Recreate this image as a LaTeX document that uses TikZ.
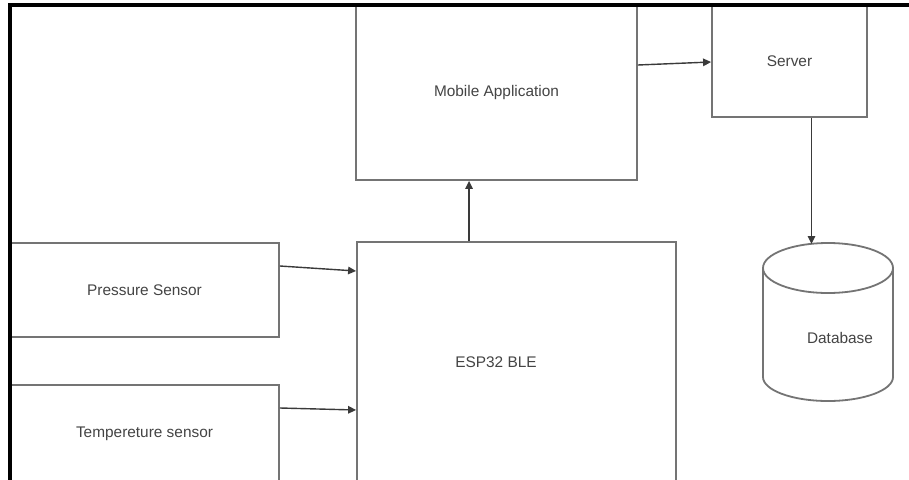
\documentclass[tikz,border=0pt]{standalone}
\usepackage{fontspec}
\setmainfont{Liberation Sans}
\usetikzlibrary{arrows.meta}
\definecolor{boxgray}{HTML}{747474}
\definecolor{txtgray}{HTML}{444444}
\definecolor{arrgray}{HTML}{3A3A3A}
\tikzset{
  blk/.style={draw=boxgray, line width=1.8pt, inner sep=0pt, font=\fontsize{15.4}{18}\selectfont, text=txtgray},
  lbl/.style={inner sep=0pt, font=\fontsize{15.4}{18}\selectfont, text=txtgray},
  conn/.style={draw=arrgray, line width=1.4pt, -{Triangle[length=8pt,width=7.5pt]}},
  frameline/.style={draw=black, line width=3.2pt},
  cyl/.style={draw=boxgray, line width=1.8pt}
}
\begin{document}
\begin{tikzpicture}[x=1pt,y=-1pt]
\clip (0,0) rectangle (909,479);
\fill[white] (0,0) rectangle (909,479);
% boxes
\node[blk, minimum width=281pt, minimum height=175pt] (mob) at (496.5,92.5) {Mobile Application};
\node[blk, minimum width=155pt, minimum height=112pt] (srv) at (789.5,61) {Server};
\node[blk, minimum width=269pt, minimum height=94pt] (press) at (144.5,290) {Pressure Sensor};
\node[blk, minimum width=269pt, minimum height=98pt] (temp) at (144.5,434) {Tempereture sensor};
\node[blk, minimum width=319pt, minimum height=258pt] (esp) at (516.5,371) {};
\node[lbl] (esplbl) at (496,362) {ESP32 BLE};
% database cylinder
\draw[cyl] (763,268) -- (763,377)
  .. controls (763,390.2) and (792.1,401) .. (828,401)
  .. controls (863.9,401) and (893,390.2) .. (893,377) -- (893,268);
\draw[cyl] (828,268) ellipse[x radius=65, y radius=25];
\node[lbl] (db) at (840,338) {Database};
\coordinate (dbtop) at (811.5,244);
% connectors
\draw[conn] ([yshift=27.5pt]mob.east) -- ([yshift=-1pt]srv.west);
\draw[conn] ([xshift=22pt]srv.south) -- (dbtop);
\draw[conn] ([xshift=-47.5pt]esp.north) -- ([xshift=-27.5pt]mob.south);
\draw[conn] ([yshift=24pt]press.east) -- ([yshift=100pt]esp.west);
\draw[conn] ([yshift=26pt]temp.east) -- ([yshift=-39pt]esp.west);
% frame
\draw[frameline] (10,490) -- (10,5) -- (920,5);
\end{tikzpicture}
\end{document}
